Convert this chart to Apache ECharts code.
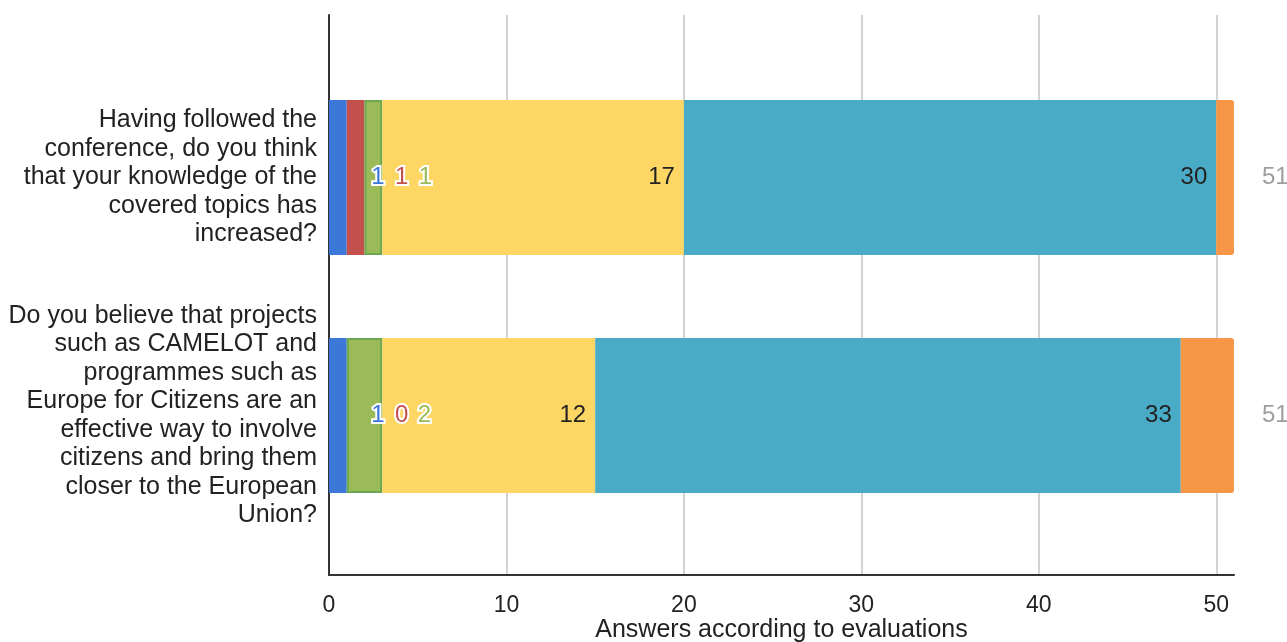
<!DOCTYPE html>
<html>
<head>
<meta charset="utf-8">
<script src="https://cdn.jsdelivr.net/npm/echarts@6/dist/echarts.min.js"></script>
<style>
html,body{margin:0;padding:0;background:#fff;}
#chart{width:1287px;height:642px;}
</style>
</head>
<body>
<div id="chart"></div>
<script>
// ---- data ----
var categories = [
  "Having followed the\nconference, do you think\nthat your knowledge of the\ncovered topics has\nincreased?",
  "Do you believe that projects\nsuch as CAMELOT and\nprogrammes such as\nEurope for Citizens are an\neffective way to involve\ncitizens and bring them\ncloser to the European\nUnion?"
];
var seriesNames = ["1", "2", "3", "4", "5", "N/A"];
var blueValues = [1, 1];
var redValues = [1, 0];
var greenValues = [1, 2];
var yellowValues = [17, 12];
var tealValues = [30, 33];
var orangeValues = [1, 3];
var xTicks = [0, 10, 20, 30, 40, 50];
var axisTitle = "Answers according to evaluations";

// ---- derived ----
var allValues = [blueValues, redValues, greenValues, yellowValues, tealValues, orangeValues];
var totals = categories.map(function (c, i) {
  return allValues.reduce(function (s, arr) { return s + arr[i]; }, 0);
});

// ---- style ----
var FONT = '"Liberation Sans", Arial, sans-serif';
var colors = ['#3c78d8', '#c4504d', '#9bbb59', '#fdd663', '#4aabc6', '#f79646'];
var smallOffsets = [[40, 40], [46, 55], [52, 60]];

function smallData(values, sIdx) {
  return values.map(function (v, i) {
    return { value: v, label: { offset: [smallOffsets[sIdx][i], 0] } };
  });
}

var smallLabel = function (color) {
  return {
    show: true, position: 'inside', color: color, fontSize: 24, fontFamily: FONT,
    textBorderColor: '#fff', textBorderWidth: 4
  };
};
var bigLabel = {
  show: true, position: 'insideRight', distance: 9, color: '#222', fontSize: 24, fontFamily: FONT
};

var chart = echarts.init(document.getElementById('chart'), null, { renderer: 'canvas' });
var option = {
  animation: false,
  backgroundColor: '#fff',
  grid: [
    { left: 329, right: 53, top: 15, bottom: 67, containLabel: false, outerBoundsMode: 'none' },
    { left: 329, right: 53, top: 58.5, bottom: 107.5, containLabel: false, outerBoundsMode: 'none' }
  ],
  xAxis: [
    {
      gridIndex: 0, type: 'value', min: 0, max: 51, interval: 10,
      axisLine: { show: true, lineStyle: { color: '#333', width: 2 } },
      axisTick: { show: false },
      axisLabel: {
        color: '#222', fontSize: 23, fontFamily: FONT, margin: 19,
        formatter: function (v) { return xTicks.indexOf(v) >= 0 ? String(v) : ''; }
      },
      splitLine: { show: true, showMaxLine: false, lineStyle: { color: '#d3d3d3', width: 2 } },
      name: axisTitle, nameLocation: 'middle', nameGap: 43, nameMoveOverlap: false,
      nameTextStyle: { color: '#222', fontSize: 25, fontFamily: FONT }
    },
    {
      gridIndex: 1, type: 'value', min: 0, max: 51, show: false
    }
  ],
  yAxis: [
    {
      gridIndex: 0, type: 'value', min: 0, max: 1,
      axisLine: { show: true, lineStyle: { color: '#333', width: 2 } },
      axisTick: { show: false }, axisLabel: { show: false }, splitLine: { show: false }
    },
    {
      gridIndex: 1, type: 'category', data: categories, inverse: true,
      axisLine: { show: false }, axisTick: { show: false },
      axisLabel: {
        color: '#222', fontSize: 25, lineHeight: 28.5, fontFamily: FONT,
        align: 'right', margin: 12
      }
    }
  ],
  series: [
    {
      name: seriesNames[0], type: 'bar', stack: 'total', xAxisIndex: 1, yAxisIndex: 1,
      barWidth: 155, data: smallData(blueValues, 0),
      itemStyle: { color: colors[0] }, label: smallLabel(colors[0])
    },
    {
      name: seriesNames[1], type: 'bar', stack: 'total', xAxisIndex: 1, yAxisIndex: 1,
      barWidth: 155, data: smallData(redValues, 1),
      itemStyle: { color: colors[1] }, label: smallLabel(colors[1])
    },
    {
      name: seriesNames[2], type: 'bar', stack: 'total', xAxisIndex: 1, yAxisIndex: 1,
      barWidth: 155, data: smallData(greenValues, 2),
      itemStyle: { color: colors[2], borderColor: '#6aa84f', borderWidth: 2 },
      label: smallLabel(colors[2])
    },
    {
      name: seriesNames[3], type: 'bar', stack: 'total', xAxisIndex: 1, yAxisIndex: 1,
      barWidth: 155, data: yellowValues,
      itemStyle: { color: colors[3] }, label: bigLabel
    },
    {
      name: seriesNames[4], type: 'bar', stack: 'total', xAxisIndex: 1, yAxisIndex: 1,
      barWidth: 155, data: tealValues,
      itemStyle: { color: colors[4] }, label: bigLabel
    },
    {
      name: seriesNames[5], type: 'bar', stack: 'total', xAxisIndex: 1, yAxisIndex: 1,
      barWidth: 155, data: orangeValues,
      itemStyle: { color: colors[5], borderRadius: [0, 3, 3, 0] },
      label: {
        show: true, position: 'right', distance: 28, color: '#9e9e9e', fontSize: 24, fontFamily: FONT,
        formatter: function (p) { return String(totals[p.dataIndex]); }
      }
    }
  ]
};
chart.setOption(option);
</script>
</body>
</html>
